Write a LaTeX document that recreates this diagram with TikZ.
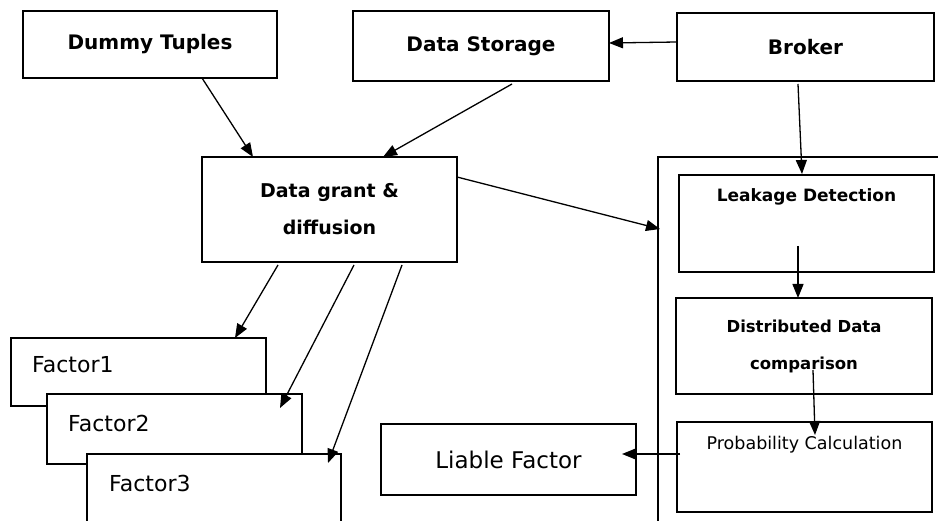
\documentclass[tikz,border=0pt]{standalone}
\usepackage{fontspec}
\setmainfont{DejaVu Sans}
\usetikzlibrary{arrows.meta}
\begin{document}
\begin{tikzpicture}[x=1pt,y=-1pt,
  box/.style={draw, fill=white, line width=1.5pt, inner sep=0pt, outer sep=0pt},
  bigb/.style={font=\fontsize{20}{24}\selectfont\bfseries},
  conn/.style={line width=1.3pt, -{Triangle[length=14pt,width=11pt]}},
  lab/.style={inner sep=0pt}]
\useasboundingbox (0,0) rectangle (938,521);
\clip (0,0) rectangle (938,521);
% top row
\node[box, bigb, minimum width=254, minimum height=67] (dummy) at (150,44.5) {Dummy Tuples};
\node[box, bigb, minimum width=256, minimum height=70] (ds) at (481,46) {Data Storage};
\node[box, bigb, minimum width=257, minimum height=68] (broker) at (805.5,47) {Broker};
% data grant
\node[box, minimum width=255, minimum height=105, align=center,
  font=\fontsize{19}{37}\selectfont\bfseries] (dg) at (329.5,209.5) {Data grant \&\\diffusion};
% container
\node[box, anchor=north west, minimum width=320, minimum height=400] (cont) at (658,157) {};
\node[box, minimum width=255, minimum height=97,
  label={[lab, yshift=26.5pt, font=\fontsize{17}{20}\selectfont\bfseries]center:Leakage Detection}] (leak) at (806.5,223.5) {};
\node[box, minimum width=256, minimum height=96, align=center,
  font=\fontsize{16.5}{37}\selectfont\bfseries] (dist) at (804,346) {Distributed Data\\comparison};
\node[box, minimum width=255, minimum height=90,
  label={[lab, yshift=22pt, font=\fontsize{17.5}{20}\selectfont]center:Probability Calculation}] (prob) at (804.5,467) {};
\node[box, minimum width=255, minimum height=71, font=\fontsize{23}{26}\selectfont] (liable) at (508.5,459.5) {Liable Factor};
% factors
\node[box, minimum width=255, minimum height=68,
  label={[lab, anchor=west, xshift=21pt, yshift=7pt, font=\fontsize{22}{26}\selectfont]west:Factor1}] (f1) at (138.5,372) {};
\node[box, minimum width=255, minimum height=70,
  label={[lab, anchor=west, xshift=21pt, yshift=6pt, font=\fontsize{22}{26}\selectfont]west:Factor2}] (f2) at (174.5,429) {};
\node[box, minimum width=254, minimum height=90,
  label={[lab, anchor=west, xshift=22pt, yshift=16pt, font=\fontsize{22}{26}\selectfont]west:Factor3}] (f3) at (214,499) {};
% connectors
\draw[conn] ([xshift=52pt]dummy.south) -- ([xshift=-76.5pt]dg.north);
\draw[conn] ([shift={(31pt,-3pt)}]ds.south) -- ([xshift=53.5pt]dg.north);
\draw[conn] ([yshift=5pt]broker.west) -- ([yshift=3pt]ds.east);
\draw[conn] ([shift={(-7.5pt,-3pt)}]broker.south) -- ([shift={(-4.5pt,1pt)}]leak.north);
\draw[conn] ([yshift=-20pt]dg.north east) -- ([shift={(2pt,-72pt)}]cont.north west);
\draw[conn] ([shift={(-51.5pt,-3pt)}]dg.south) -- ([xshift=-31pt]f1.north east);
\draw[conn] ([shift={(24.5pt,-3pt)}]dg.south) -- ([shift={(-22pt,-14pt)}]f2.north east);
\draw[conn] ([shift={(72.5pt,-3pt)}]dg.south) -- ([shift={(-13pt,-9pt)}]f3.north east);
\draw[conn] ([shift={(-8.5pt,26pt)}]leak.south) -- ([xshift=-6pt]dist.north);
\draw[conn] ([shift={(9pt,24pt)}]dist.south) -- ([shift={(10.5pt,-13pt)}]prob.north);
\draw[conn] ([shift={(3pt,13pt)}]prob.west) -- ([shift={(-14pt,5.5pt)}]liable.east);
\end{tikzpicture}
\end{document}
